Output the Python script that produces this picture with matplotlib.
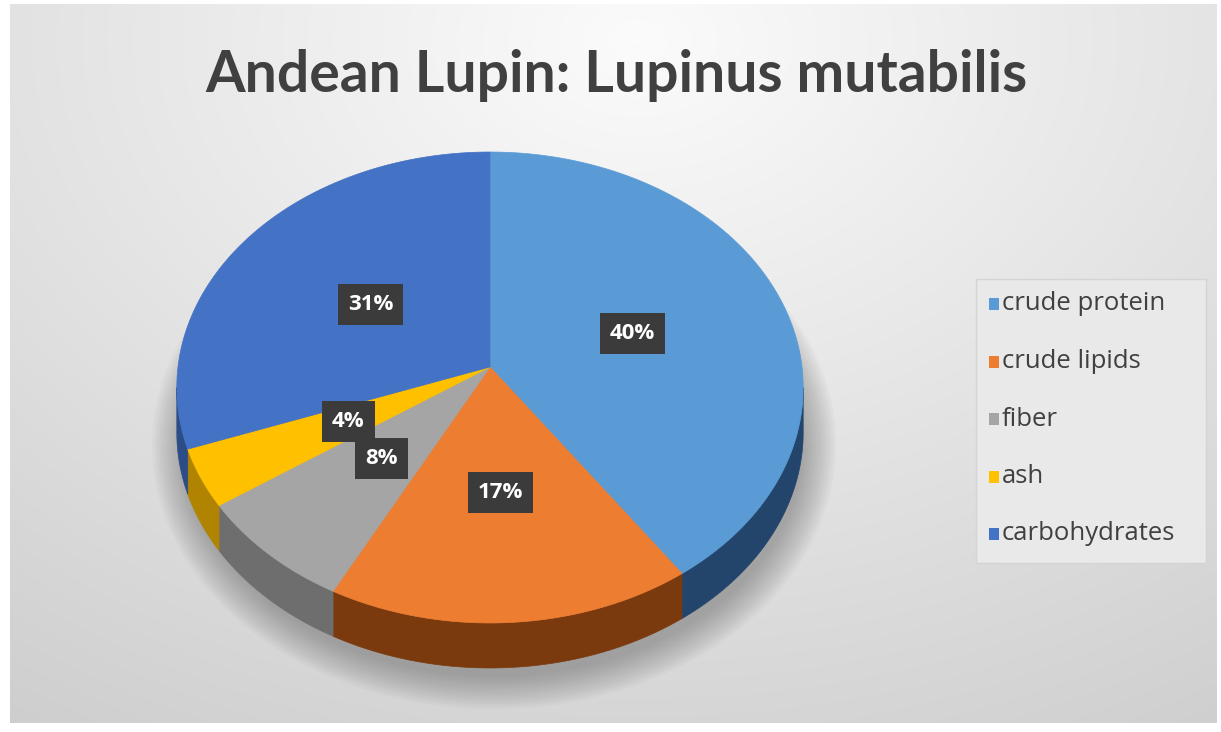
import matplotlib.pyplot as plt
import numpy as np
from matplotlib.patches import Polygon, Ellipse, FancyBboxPatch

# data
categories = ['crude protein', 'crude lipids', 'fiber', 'ash', 'carbohydrates']
values = [40.4, 17.4, 7.8, 4.0, 30.6]
top_colors = ['#5B9BD5', '#ED7D31', '#A5A5A5', '#FFC000', '#4472C4']
side_colors = ['#23456B', '#7A3A0E', '#6E6E6E', '#B08400', '#2B4C86']

W, H = 1221, 732
fig = plt.figure(figsize=(W / 100, H / 100), dpi=100)
fig.patch.set_facecolor('white')

# background radial gradient
bg = fig.add_axes([0.008, 0.012, 0.988, 0.982])
yy, xx = np.mgrid[0:1:300j, 0:1:500j]
d = np.sqrt(((xx - 0.52) / 0.9) ** 2 + ((yy - 0.05) / 1.1) ** 2)
shade = np.clip(0.985 - 0.17 * d, 0.80, 0.985)
bg.imshow(np.dstack([shade] * 3), aspect='auto', extent=[0, 1, 1, 0])
bg.set_axis_off()

ax = fig.add_axes([0, 0, 1, 1])
ax.set_xlim(0, W)
ax.set_ylim(H, 0)
ax.set_axis_off()
ax.patch.set_alpha(0)

# tilted disc with a little perspective
cx, vy = 490, 367
R, Rs, p = 312, 233.7, 0.087
depth = 45

def rim(t):
    t = np.radians(t)
    X, Z = np.cos(t), -np.sin(t)
    w = 1 - p * Z
    return cx + R * X / w, vy + Rs * Z / w

# soft shadow
for k in range(14):
    ax.add_patch(Ellipse((cx + 4, 400 + depth), 2 * (R + 30 - 2.5 * k), 2 * (242 + 22 - 2.5 * k),
                         facecolor='#555555', edgecolor='none', alpha=0.035, zorder=1))

frac = np.array(values) / sum(values)
starts = 90 - 360 * np.concatenate([[0], np.cumsum(frac)[:-1]])
ends = starts - 360 * frac

# side walls (front part only)
for s, e, col in zip(starts, ends, side_colors):
    for lo_lim, hi_lim in [(-175, -5), (-535, -365)]:
        lo, hi = max(e, lo_lim), min(s, hi_lim)
        if lo < hi:
            t = np.linspace(hi, lo, 80)
            x, y = rim(t)
            pts = np.column_stack([np.r_[x, x[::-1]], np.r_[y, y[::-1] + depth]])
            ax.add_patch(Polygon(pts, closed=True, facecolor=col, edgecolor=col, lw=0.5, zorder=2))

# top faces
for s, e, col in zip(starts, ends, top_colors):
    t = np.linspace(s, e, 200)
    x, y = rim(t)
    pts = np.column_stack([np.r_[cx, x], np.r_[vy, y]])
    ax.add_patch(Polygon(pts, closed=True, facecolor=col, edgecolor=col, lw=0.5, zorder=3))

# data labels
for s, e, f in zip(starts, ends, frac):
    rx_, ry_ = rim((s + e) / 2)
    lx = cx + 0.49 * (rx_ - cx)
    ly = vy + 0.49 * (ry_ - vy)
    ax.text(lx, ly, f'{f * 100:.0f}%', color='white', fontsize=16, fontweight='bold', family='Open Sans',
            ha='center', va='center', zorder=6,
            bbox=dict(boxstyle='square,pad=0.45', facecolor='#3B3B3B', edgecolor='none'))

# title
ax.text(616, 76, 'Andean Lupin: Lupinus mutabilis', fontsize=41, fontweight='bold', family='Lato',
        color='#404040', ha='center', va='center', zorder=6)

# legend
ax.add_patch(FancyBboxPatch((976, 279), 230, 284, boxstyle='square,pad=0', facecolor='#E9E9E9',
                            edgecolor='#D4D4D4', lw=1, zorder=4))
for i, (name, col) in enumerate(zip(categories, top_colors)):
    ly = 304 + i * 57.5
    ax.add_patch(Polygon([(989, ly - 6), (999, ly - 6), (999, ly + 6), (989, ly + 6)],
                         closed=True, facecolor=col, edgecolor='none', zorder=5))
    ax.text(1002, ly, name, fontsize=18.5, family='Open Sans', color='#404040',
            ha='left', va='center', zorder=5)

fig.savefig('out.png', dpi=100)
